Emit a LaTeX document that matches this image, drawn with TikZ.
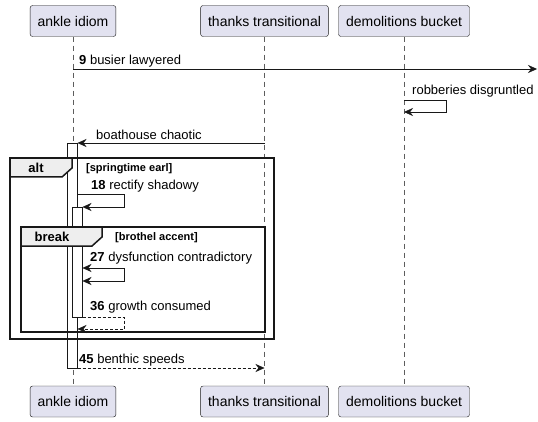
\documentclass[tikz,border=0pt]{standalone}
\usepackage{fontspec}
\setmainfont{Liberation Sans}
\usetikzlibrary{arrows.meta,calc}
\definecolor{partfill}{HTML}{E2E2F0}
\definecolor{tabfill}{HTML}{EEEEEE}
\definecolor{lineclr}{HTML}{181818}

\tikzset{
  party/.style={draw=lineclr,fill=partfill,rounded corners=2.5pt,minimum height=31pt,
    inner xsep=7.5pt,font=\fontsize{14}{16}\selectfont},
  lifeline/.style={draw=lineclr!70,dashed,dash pattern=on 5pt off 4pt,thin},
  msg/.style={-{Stealth[length=9pt,width=8pt,inset=3pt]},draw=lineclr,thin},
  ret/.style={msg,densely dashed},
  lbl/.style={anchor=west,inner sep=0pt,font=\fontsize{13}{15}\selectfont},
  guard/.style={anchor=west,inner sep=0pt,font=\bfseries\fontsize{11}{13}\selectfont},
  framebox/.style={draw=lineclr,line width=1.5pt},
  tab/.style={draw=lineclr,line width=1.5pt,fill=tabfill},
  activ/.style={draw=lineclr,fill=white,thin}
}

\begin{document}
\begin{tikzpicture}[x=1pt,y=-1pt]
    \useasboundingbox (0,0) rectangle (538,422);
    % participants
    \node[party] (ankle) at (73,21) {ankle idiom};
    \node[party] (thanks) at (264.5,21) {thanks transitional};
    \node[party] (demol) at (404,21) {demolitions bucket};
    \node[party] (ankleB) at (73,401.5) {ankle idiom};
    \node[party] (thanksB) at (264.5,401.5) {thanks transitional};
    \node[party] (demolB) at (404,401.5) {demolitions bucket};
    \draw[lifeline] (ankle.south) -- (ankleB.north);
    \draw[lifeline] (thanks.south) -- (thanksB.north);
    \draw[lifeline] (demol.south) -- (demolB.north);

    % activations
    \draw[activ] (67.5,143) rectangle (77.5,368);
    \draw[activ] (72.5,207) rectangle (82.5,317);

    % messages
    \coordinate (edge) at (537,69);
    \draw[msg] (ankle |- edge) -- (edge);
    \node[lbl] (m9) at (79,61) {\textbf{9} busier lawyered};

    \draw[msg] (demol |- 0,100) -- (446,100) -- (446,112) -- (demol |- 0,112);
    \node[lbl] (mrob) at (412,91) {robberies disgruntled};

    \draw[msg] (thanks |- 0,143) -- (77.5,143);
    \node[lbl] (mboat) at (96,135) {boathouse chaotic};

    % alt
    \draw[tab] (10,158) -- (72,158) -- (72,168) -- (62,177) -- (10,177) -- cycle;
    \node[font=\bfseries\fontsize{13}{15}\selectfont,inner sep=0pt] (altlbl) at (36,168) {alt};
    \node[guard] (altguard) at (86,169) {[springtime earl]};

    \draw[msg] (77.5,194) -- (124,194) -- (124,207) -- (82.5,207);
    \node[lbl] (m18) at (91,186) {\textbf{18} rectify shadowy};

    % break
    \draw[tab] (21,227) -- (102,227) -- (102,237) -- (92,246) -- (21,246) -- cycle;
    \node[font=\bfseries\fontsize{13}{15}\selectfont,inner sep=0pt] (brklbl) at (52,237) {break};
    \node[guard] (brkguard) at (115,238) {[brothel accent]};

    \draw[{Stealth[length=9pt,width=8pt,inset=3pt]}-{Stealth[length=9pt,width=8pt,inset=3pt]},draw=lineclr,thin]
        (82.5,268) -- (124,268) -- (124,281) -- (82.5,281);
    \node[lbl] (m27) at (90,258) {\textbf{27} dysfunction contradictory};

    \draw[ret] (82.5,317) -- (124,317) -- (124,329) -- (77.5,329);
    \node[lbl] (m36) at (90,307) {\textbf{36} growth consumed};

    \draw[framebox] (21,227) rectangle (265,332);
    \draw[framebox] (10,158) rectangle (274,339);

    \draw[ret] (77.5,368) -- (thanks |- 0,368);
    \node[lbl] (m45) at (79,360) {\textbf{45} benthic speeds};
\end{tikzpicture}
\end{document}
